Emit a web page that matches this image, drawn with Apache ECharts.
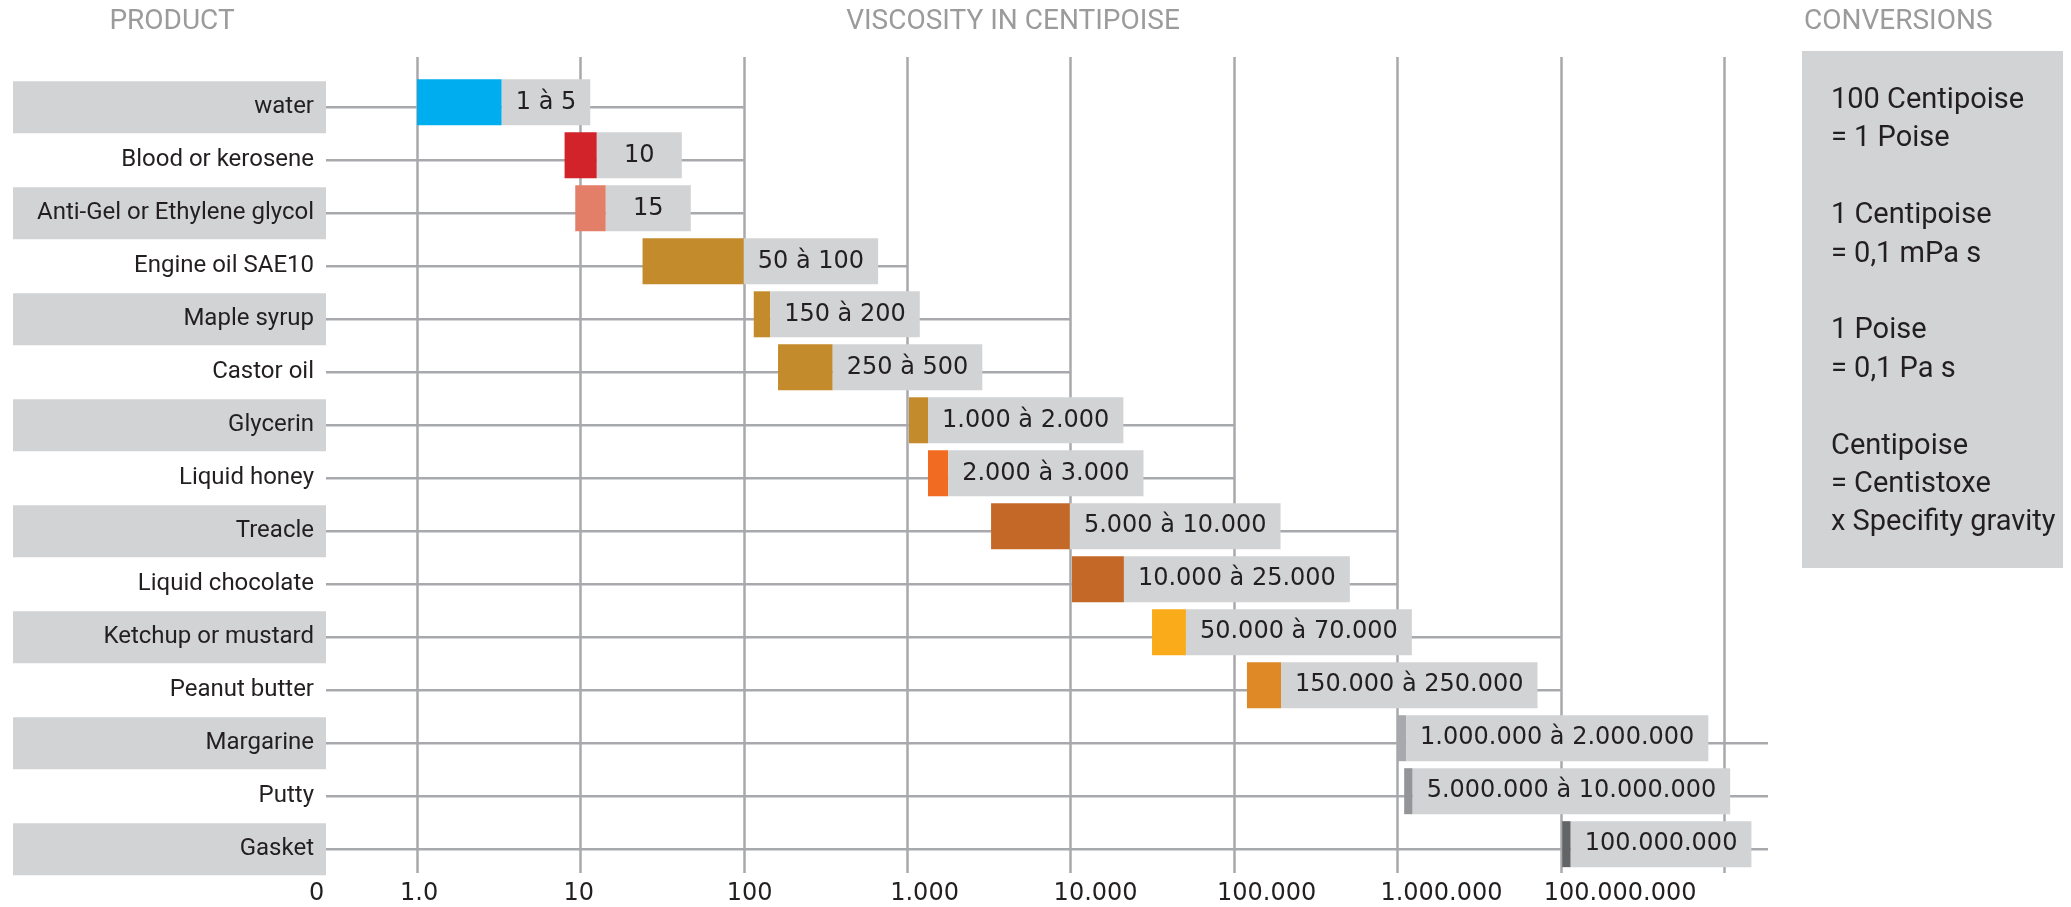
<!DOCTYPE html>
<html>
<head>
<meta charset="utf-8">
<script src="https://cdn.jsdelivr.net/npm/echarts@6/dist/echarts.min.js"></script>
<style>
  html, body { margin: 0; padding: 0; background: #ffffff; }
  #chart { width: 2071px; height: 907px; }
</style>
</head>
<body>
<div id="chart"></div>
<script>
// ---------- data ----------
const products = [
  "water", "Blood or kerosene", "Anti-Gel or Ethylene glycol", "Engine oil SAE10",
  "Maple syrup", "Castor oil", "Glycerin", "Liquid honey", "Treacle",
  "Liquid chocolate", "Ketchup or mustard", "Peanut butter", "Margarine", "Putty", "Gasket"
];
// drawn extent of each coloured bar, in centipoise
const rangeLow  = [1, 8, 9.3, 24, 115, 162, 1025, 1340, 3260, 10200, 31500, 120000, 995000, 1100000, 10200000];
const rangeHigh = [3.3, 12.6, 14.3, 100, 145, 350, 1340, 1780, 9900, 21200, 50800, 194000, 1130000, 1240000, 11500000];
const rangeLabels = [
  "1 à 5", "10", "15", "50 à 100", "150 à 200", "250 à 500", "1.000 à 2.000",
  "2.000 à 3.000", "5.000 à 10.000", "10.000 à 25.000", "50.000 à 70.000",
  "150.000 à 250.000", "1.000.000 à 2.000.000", "5.000.000 à 10.000.000", "100.000.000"
];
// where each row's guide line stops (centipoise); null = runs to the axis end
const rowLineEnd = [100, 100, 100, 1000, 10000, 10000, 100000, 100000, 1000000, 1000000, 10000000, 10000000, null, null, null];
// x axis tick labels (first one sits at the axis start)
const tickLabels = ["0", "1.0", "10", "100", "1.000", "10.000", "100.000", "1.000.000", "100.000.000"];
const gridDecades = [0, 1, 2, 3, 4, 5, 6, 7, 8];

// ---------- styles ----------
const barColors = [
  "#00aeef", "#d2232a", "#e37f68", "#c38b2b", "#c38b2b", "#c38b2b", "#c38b2b",
  "#f26b22", "#c46828", "#c46828", "#f9ab19", "#df8826", "#a7a9ac", "#939598", "#636466"
];
const GRAY_BOX = "#d1d3d4";
const LINE = "#a8a9ad";
const TEXT = "#231f20";
const TITLE = "#9b9b9b";
const X_MIN = -0.557, X_MAX = 8.268;
const VALUE_FONT = '24px "DejaVu Sans"';

const measureCtx = document.createElement("canvas").getContext("2d");
measureCtx.font = VALUE_FONT;

const barData = products.map((p, i) => [i, Math.log10(rangeLow[i]), Math.log10(rangeHigh[i])]);
const lineData = products.map((p, i) => [i, rowLineEnd[i] == null ? X_MAX : Math.log10(rowLineEnd[i])]);

const chart = echarts.init(document.getElementById("chart"), null, { renderer: "canvas" });

const option = {
  animation: false,
  backgroundColor: "#ffffff",
  grid: { left: 326, right: 303, top: 57, bottom: 34, containLabel: false },
  xAxis: {
    type: "value",
    min: X_MIN,
    max: X_MAX,
    axisLine: { show: false },
    axisTick: { show: false, customValues: gridDecades },
    splitLine: { show: true, lineStyle: { color: LINE, width: 2.5 } },
    axisLabel: {
      customValues: [X_MIN, 0, 1, 2, 3, 4, 5, 6, 7],
      showMinLabel: true,
      showMaxLabel: true,
      formatter: v => (v < 0 ? tickLabels[0] : tickLabels[Math.round(v) + 1]),
      align: "left",
      padding: [0, 0, 0, -17],
      margin: 9,
      color: TEXT,
      fontFamily: "DejaVu Sans",
      fontSize: 24
    }
  },
  yAxis: {
    type: "value",
    inverse: true,
    min: -0.95,
    max: 14.45,
    axisLine: { show: false },
    axisTick: { show: false },
    splitLine: { show: false },
    axisLabel: {
      customValues: products.map((p, i) => i),
      showMinLabel: true,
      showMaxLabel: true,
      margin: 0,
      formatter: v => {
        const i = Math.round(v);
        return (i % 2 === 0 ? "{box|" : "{plain|") + products[i] + "}";
      },
      rich: {
        box: {
          backgroundColor: GRAY_BOX, width: 301, height: 52, lineHeight: 52,
          padding: [0, 12, 0, 0], align: "right",
          color: TEXT, fontFamily: "Roboto", fontSize: 24
        },
        plain: {
          width: 301, height: 52, lineHeight: 52,
          padding: [0, 12, 0, 0], align: "right",
          color: TEXT, fontFamily: "Roboto", fontSize: 24
        }
      }
    }
  },
  series: [
    {
      type: "custom",
      name: "rows",
      z: 1,
      silent: true,
      data: lineData,
      renderItem: (params, api) => {
        const row = api.value(0);
        const a = api.coord([X_MIN, row]);
        const b = api.coord([api.value(1), row]);
        return {
          type: "line",
          shape: { x1: a[0], y1: a[1], x2: b[0], y2: b[1] },
          style: { stroke: LINE, lineWidth: 2.5 }
        };
      }
    },
    {
      type: "custom",
      name: "viscosity",
      z: 3,
      silent: true,
      data: barData,
      renderItem: (params, api) => {
        const i = params.dataIndex;
        const row = api.value(0);
        const p0 = api.coord([api.value(1), row]);
        const p1 = api.coord([api.value(2), row]);
        const pitch = Math.abs(api.size([0, 1])[1]);
        const top = p0[1] - pitch * 0.528;
        const h = pitch * 0.868;
        const label = rangeLabels[i];
        const tw = measureCtx.measureText(label).width;
        const boxW = Math.max(85, tw + 28);
        return {
          type: "group",
          children: [
            {
              type: "rect",
              shape: { x: p0[0], y: top, width: p1[0] - p0[0], height: h },
              style: { fill: barColors[i] }
            },
            {
              type: "rect",
              shape: { x: p1[0], y: top, width: boxW, height: h },
              style: { fill: GRAY_BOX }
            },
            {
              type: "text",
              style: {
                text: label, x: p1[0] + boxW / 2, y: top + h / 2,
                align: "center", verticalAlign: "middle",
                font: VALUE_FONT, fill: TEXT
              }
            }
          ]
        };
      }
    }
  ],
  graphic: [
    {
      type: "text", x: 172, y: 22,
      style: { text: "PRODUCT", font: '28px Roboto', fill: TITLE, align: "center", verticalAlign: "middle" }
    },
    {
      type: "text", x: 1013, y: 22,
      style: { text: "VISCOSITY IN CENTIPOISE", font: '28px Roboto', fill: TITLE, align: "center", verticalAlign: "middle" }
    },
    {
      type: "text", x: 1804, y: 22,
      style: { text: "CONVERSIONS", font: '28px Roboto', fill: TITLE, align: "left", verticalAlign: "middle" }
    },
    {
      type: "rect",
      shape: { x: 1802, y: 51, width: 261, height: 517 },
      style: { fill: GRAY_BOX }
    },
    {
      type: "text", x: 1831, y: 81.5,
      style: {
        text: "100 Centipoise\n= 1 Poise\n\n1 Centipoise\n= 0,1 mPa s\n\n1 Poise\n= 0,1 Pa s\n\nCentipoise\n= Centistoxe\nx Specifity gravity",
        font: '29px Roboto', lineHeight: 38.4, fill: TEXT, align: "left", verticalAlign: "top"
      }
    }
  ]
};

chart.setOption(option);
</script>
</body>
</html>
